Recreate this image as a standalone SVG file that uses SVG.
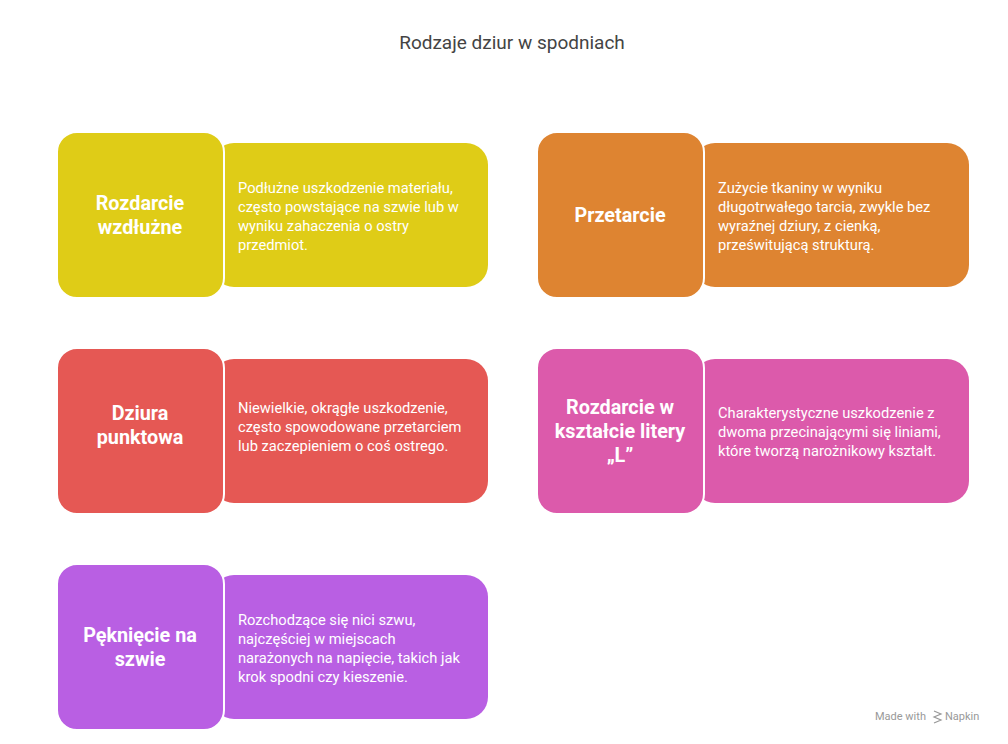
<svg xmlns="http://www.w3.org/2000/svg" width="1008" height="744" viewBox="0 0 1008 744">
<style>
text{font-family:Roboto,"Liberation Sans",sans-serif}
.t{font-size:19px;fill:#444;text-anchor:middle}
.h{font-size:19.8px;font-weight:bold;fill:#fff;text-anchor:middle}
.d{font-size:14.7px;fill:#fff}
.sq{stroke:#fff;stroke-width:2}
.m{font-size:11px;fill:#999}
</style>
<rect width="1008" height="744" fill="#fff"/>
<text class="t" x="512" y="49">Rodzaje dziur w spodniach</text>
<g id="n1">
<rect x="212" y="143" width="276" height="144" rx="22" fill="#DFCC17"/>
<rect class="sq" x="57" y="132" width="167" height="166" rx="20" fill="#DFCC17"/>
<text class="h" x="140" y="210">Rozdarcie</text><text class="h" x="140" y="234">wzdłużne</text>
<text class="d" x="238" y="193">Podłużne uszkodzenie materiału,</text>
<text class="d" x="238" y="212">często powstające na szwie lub w</text>
<text class="d" x="238" y="231">wyniku zahaczenia o ostry</text>
<text class="d" x="238" y="250">przedmiot.</text>
</g>
<g id="n2">
<rect x="693" y="143" width="276" height="144" rx="22" fill="#DE8431"/>
<rect class="sq" x="537" y="132" width="167" height="166" rx="20" fill="#DE8431"/>
<text class="h" x="620" y="222">Przetarcie</text>
<text class="d" x="718" y="193">Zużycie tkaniny w wyniku</text>
<text class="d" x="718" y="212">długotrwałego tarcia, zwykle bez</text>
<text class="d" x="718" y="231">wyraźnej dziury, z cienką,</text>
<text class="d" x="718" y="250">prześwitującą strukturą.</text>
</g>
<g id="n3">
<rect x="212" y="359" width="276" height="144" rx="22" fill="#E55854"/>
<rect class="sq" x="57" y="348" width="167" height="166" rx="20" fill="#E55854"/>
<text class="h" x="140" y="420">Dziura</text><text class="h" x="140" y="444">punktowa</text>
<text class="d" x="238" y="413">Niewielkie, okrągłe uszkodzenie,</text>
<text class="d" x="238" y="432">często spowodowane przetarciem</text>
<text class="d" x="238" y="451">lub zaczepieniem o coś ostrego.</text>
</g>
<g id="n4">
<rect x="693" y="359" width="276" height="144" rx="22" fill="#DC5AAB"/>
<rect class="sq" x="537" y="348" width="167" height="166" rx="20" fill="#DC5AAB"/>
<text class="h" x="620" y="414">Rozdarcie w</text><text class="h" x="620" y="438">kształcie litery</text><text class="h" x="620" y="462">„L”</text>
<text class="d" x="718" y="418">Charakterystyczne uszkodzenie z</text>
<text class="d" x="718" y="437">dwoma przecinającymi się liniami,</text>
<text class="d" x="718" y="456">które tworzą narożnikowy kształt.</text>
</g>
<g id="n5">
<rect x="212" y="575" width="276" height="144" rx="22" fill="#B95FE3"/>
<rect class="sq" x="57" y="564" width="167" height="166" rx="20" fill="#B95FE3"/>
<text class="h" x="140" y="642">Pęknięcie na</text><text class="h" x="140" y="666">szwie</text>
<text class="d" x="238" y="625">Rozchodzące się nici szwu,</text>
<text class="d" x="238" y="644">najczęściej w miejscach</text>
<text class="d" x="238" y="663">narażonych na napięcie, takich jak</text>
<text class="d" x="238" y="682">krok spodni czy kieszenie.</text>
</g>
<g id="connectors"></g>
<text class="m" x="875" y="720">Made with</text>
<path d="M934 711l7 3-7 3 7 3-7 3" stroke="#999" fill="none" stroke-width="1.2"/>
<text class="m" x="945" y="720">Napkin</text>
</svg>
